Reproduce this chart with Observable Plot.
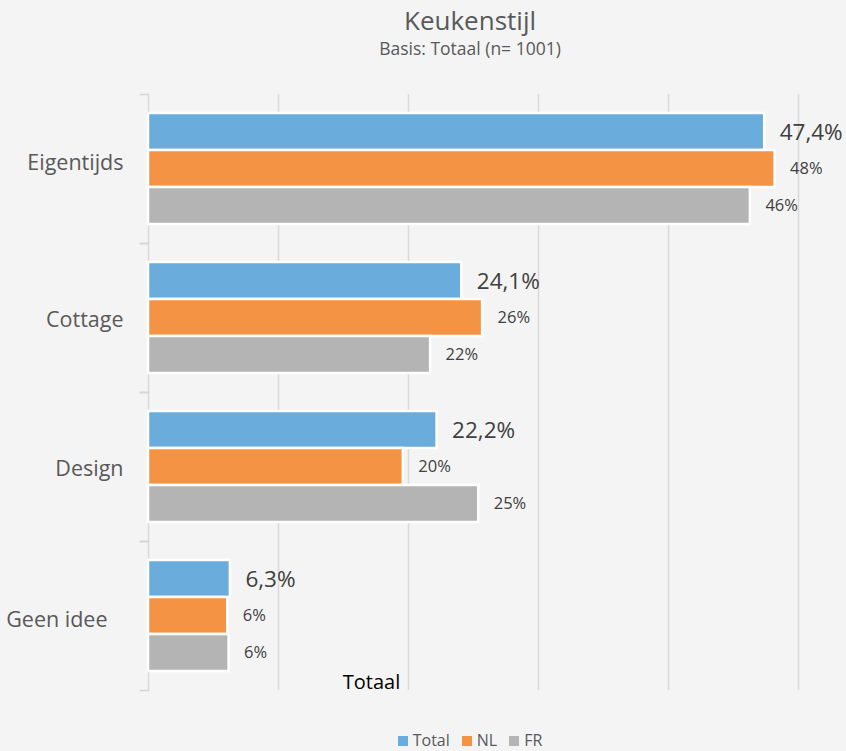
<!DOCTYPE html>
<html>
<head>
<meta charset="utf-8">
<script src="https://cdn.jsdelivr.net/npm/d3@7"></script>
<script src="https://cdn.jsdelivr.net/npm/@observablehq/plot@0.6"></script>
<style>
  html, body { margin: 0; padding: 0; background: #f4f4f4; }
  body { width: 846px; height: 751px; overflow: hidden; font-family: "Open Sans", sans-serif; }
  .title { box-sizing: border-box; width: 846px; padding-left: 94px; padding-top: 3px; height: 38px; line-height: 34px; text-align: center; font-size: 26px; color: #595959; }
  .subtitle { box-sizing: border-box; width: 846px; padding-left: 94px; height: 20px; line-height: 20px; text-align: center; font-size: 17.5px; color: #595959; }
  .legend { box-sizing: border-box; width: 846px; padding-left: 94px; padding-top: 26px; height: 46px; line-height: 18px; text-align: center; font-size: 16px; color: #595959; }
  .legend span.item { display: inline-block; margin: 0 6px; }
  .legend span.sw { display: inline-block; width: 10px; height: 10px; margin-right: 5px; vertical-align: 0px; }
  #chart svg { display: block; }
</style>
</head>
<body>
<div class="title">Keukenstijl</div>
<div class="subtitle">Basis: Totaal (n= 1001)</div>
<div id="chart"></div>
<div class="legend" id="legend"></div>
<script>
const categories = ["Eigentijds", "Cottage", "Design", "Geen idee"];
const seriesNames = ["Total", "NL", "FR"];
const seriesColors = ["#6aacdc", "#f39343", "#b4b4b4"];
const totalValues = [47.4, 24.1, 22.2, 6.3];
const nlValues = [48.2, 25.7, 19.6, 6.1];
const frValues = [46.3, 21.7, 25.4, 6.2];
const totalLabels = ["47,4%", "24,1%", "22,2%", "6,3%"];
const nlLabels = ["48%", "26%", "20%", "6%"];
const frLabels = ["46%", "22%", "25%", "6%"];
const xTicks = [0, 10, 20, 30, 40, 50];
const axisTitle = "Totaal";

const seriesValues = [totalValues, nlValues, frValues];
const seriesLabels = [totalLabels, nlLabels, frLabels];
const data = [];
categories.forEach((c, i) => {
  seriesNames.forEach((s, j) => {
    data.push({cat: c, series: s, value: seriesValues[j][i], label: seriesLabels[j][i]});
  });
});

const W = 846, mL = 148, mR = 48;
const plotW = W - mL - mR;
const axisStyle = {anchor: "left", tickSize: 0, label: null, fontSize: 21.5, fill: "#595959"};

const chart = Plot.plot({
  width: W,
  height: 647,
  marginLeft: mL,
  marginRight: mR,
  marginTop: 35,
  marginBottom: 15,
  style: {fontFamily: "'Open Sans', sans-serif", fontSize: "21.5px", color: "#595959", background: "transparent"},
  x: {domain: [0, 50], axis: null},
  y: {domain: seriesNames, paddingInner: 0, paddingOuter: 0.5, axis: null},
  fy: {domain: categories, padding: 0, axis: null},
  color: {domain: seriesNames, range: seriesColors},
  marks: [
    Plot.ruleX(xTicks, {stroke: "#dadada", strokeWidth: 1.5}),
    Plot.frame({anchor: "top", insetLeft: -8, insetRight: plotW, stroke: "#d4d4d4", strokeWidth: 1.5}),
    Plot.frame({anchor: "bottom", insetLeft: -8, insetRight: plotW, stroke: "#d4d4d4", strokeWidth: 1.5}),
    Plot.axisFy({...axisStyle, ticks: categories.slice(0, 1), tickPadding: 25, dy: -6}),
    Plot.axisFy({...axisStyle, ticks: categories.slice(1, 3), tickPadding: 25, dy: 2}),
    Plot.axisFy({...axisStyle, ticks: categories.slice(3), tickPadding: 41, dy: 4}),
    Plot.barX(data, {x: "value", y: "series", fy: "cat", fill: "series", stroke: "white", strokeWidth: 2.5}),
    Plot.text(data.filter(d => d.series === "Total"), {x: "value", y: "series", fy: "cat", text: "label", dx: 15, dy: 1, textAnchor: "start", fontSize: 22.5, fill: "#404040"}),
    Plot.text(data.filter(d => d.series !== "Total"), {x: "value", y: "series", fy: "cat", text: "label", dx: 15, textAnchor: "start", fontSize: 16.5, fill: "#404040"}),
    Plot.text([{cat: categories[categories.length - 1]}], {fy: "cat", text: () => axisTitle, frameAnchor: "bottom", dx: -102, dy: -2, fontSize: 20, fill: "#000000"})
  ]
});
document.getElementById("chart").appendChild(chart);

const legend = document.getElementById("legend");
seriesNames.forEach((s, j) => {
  const item = document.createElement("span");
  item.className = "item";
  const sw = document.createElement("span");
  sw.className = "sw";
  sw.style.background = seriesColors[j];
  item.appendChild(sw);
  item.appendChild(document.createTextNode(s));
  legend.appendChild(item);
});
</script>
</body>
</html>
